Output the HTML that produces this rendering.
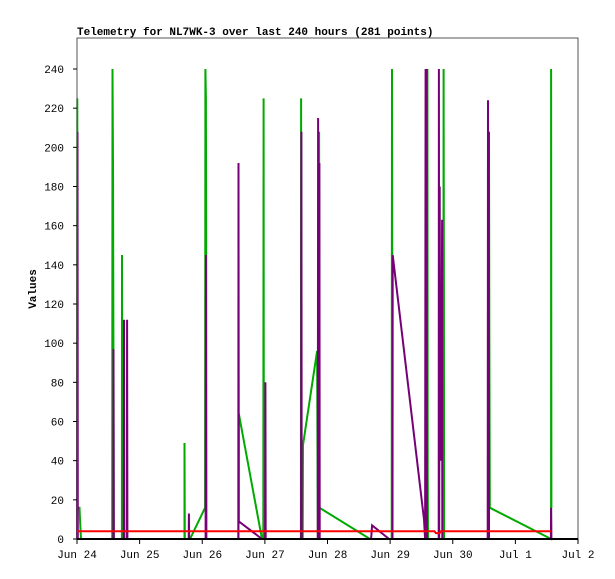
<!DOCTYPE html>
<html><head><meta charset="utf-8"><style>
html,body{margin:0;padding:0;background:#fff;}
svg{display:block;font-family:"Liberation Mono","DejaVu Sans Mono",monospace;}
</style></head><body>
<svg id="chart" width="615" height="579" viewBox="0 0 615 579" xmlns="http://www.w3.org/2000/svg">
<rect x="0" y="0" width="615" height="579" fill="#fff"/>
<text x="77" y="35" font-size="11" font-weight="bold">Telemetry for NL7WK-3 over last 240 hours (281 points)</text>
<text transform="translate(36,289) rotate(-90)" text-anchor="middle" font-size="11" font-weight="bold">Values</text>
<g id="grid"></g>
<g id="series"></g>
<g id="axes"></g>
</svg>
<script>
const yTicks = [0,20,40,60,80,100,120,140,160,180,200,220,240];
const xTickLabels = ["Jun 24","Jun 25","Jun 26","Jun 27","Jun 28","Jun 29","Jun 30","Jul 1","Jul 2"];
const greenT = [0,0,0.1,0.2,0.96,1.15,1.53,13.5,13.6,13.8,14.0,14.1,17.2,17.25,17.35,41.2,41.2,41.3,43.3,49.1,49.2,49.4,49.5,49.6,61.9,62.0,70.9,71.4,71.5,71.6,71.7,85.8,85.9,86.0,86.5,86.6,92.0,92.3,92.7,92.8,92.9,112.3,120.6,120.7,120.8,120.9,133.9,134.0,134.1,134.3,134.4,134.5,140.4,140.5,140.6,140.7,157.8,157.9,158.0,158.2,181.7,181.7,181.8];
const greenV = [0,72,225,16,16,10,0,0,240,192,80,0,0,145,0,0,49,0,0,16,240,225,145,0,0,64,0,0,225,44,0,0,225,0,0,48,96,0,0,208,16,0,0,240,145,0,0,240,0,240,35,0,0,240,123,0,0,208,112,16,0,240,16];
const purpleT = [0,0.2,0.3,13.9,14.0,14.1,17.9,18.0,18.1,19.1,19.2,19.3,42.8,42.9,43.0,49.3,49.4,49.5,61.8,61.9,62.0,70.9,72.1,72.2,72.3,85.9,86.0,86.1,92.3,92.4,92.5,92.8,92.9,93.0,112.7,113.1,119.6,120.9,121.0,133.0,133.4,133.6,133.8,134.0,134.1,138.6,138.7,138.8,139.0,139.2,139.4,139.6,139.9,140.0,157.4,157.5,157.7,157.8,157.9,181.6,181.7,181.8];
const purpleV = [0,208,0,0,97,0,0,112,0,0,112,0,0,13,0,0,145,0,0,192,9,0,0,80,0,0,208,0,0,215,0,0,192,0,0,7,0,0,145,10,0,240,0,240,0,0,240,0,180,40,123,40,163,0,0,224,0,208,0,0,16,0];
const redT = [0,137,137.5,139,139.5,181.7];
const redV = [4,4,3,3,4,4];

const L=77,R=578,T=38,B=539;
const xs = h => L + h*(R-L)/192;
const ys = v => B - v*(B-69)/240;
const NS="http://www.w3.org/2000/svg";
function mk(tag,attrs,parent){const e=document.createElementNS(NS,tag);for(const k in attrs)e.setAttribute(k,attrs[k]);parent.appendChild(e);return e;}
const axes=document.getElementById('axes'), series=document.getElementById('series');

const frame=mk('rect',{x:L,y:T,width:R-L,height:B-T,fill:'none',stroke:'#555','stroke-width':1},axes);



function line(T_,V_,color,name){
  const p=T_.map((t,i)=>xs(t).toFixed(1)+','+ys(V_[i]).toFixed(1)).join(' ');
  const pl=mk('polyline',{points:p,fill:'none',stroke:color,'stroke-width':2,'stroke-linejoin':'miter'},series);
  
  
}
line(greenT,greenV,'#00aa00','series-green');
line(purpleT,purpleV,'#770077','series-purple');
line(redT,redV,'#ff0000','series-red');

const base=mk('line',{x1:L,y1:B,x2:R,y2:B,stroke:'#000','stroke-width':2},axes);



yTicks.forEach(v=>{
  const y=ys(v);
  const t=mk('line',{x1:L-4,y1:y,x2:L,y2:y,stroke:'#000','stroke-width':1},axes);
  
  
  const lb=mk('text',{x:64,y:y+4,'text-anchor':'end','font-size':11},axes);
  lb.textContent=v;
  
  
});
xTickLabels.forEach((s,i)=>{
  const x=xs(i*24);
  const t=mk('line',{x1:x,y1:B,x2:x,y2:B+5,stroke:'#000','stroke-width':1},axes);
  
  
  const lb=mk('text',{x:x,y:558,'text-anchor':'middle','font-size':11},axes);
  lb.textContent=s;
  
  
});
</script>
</body></html>
